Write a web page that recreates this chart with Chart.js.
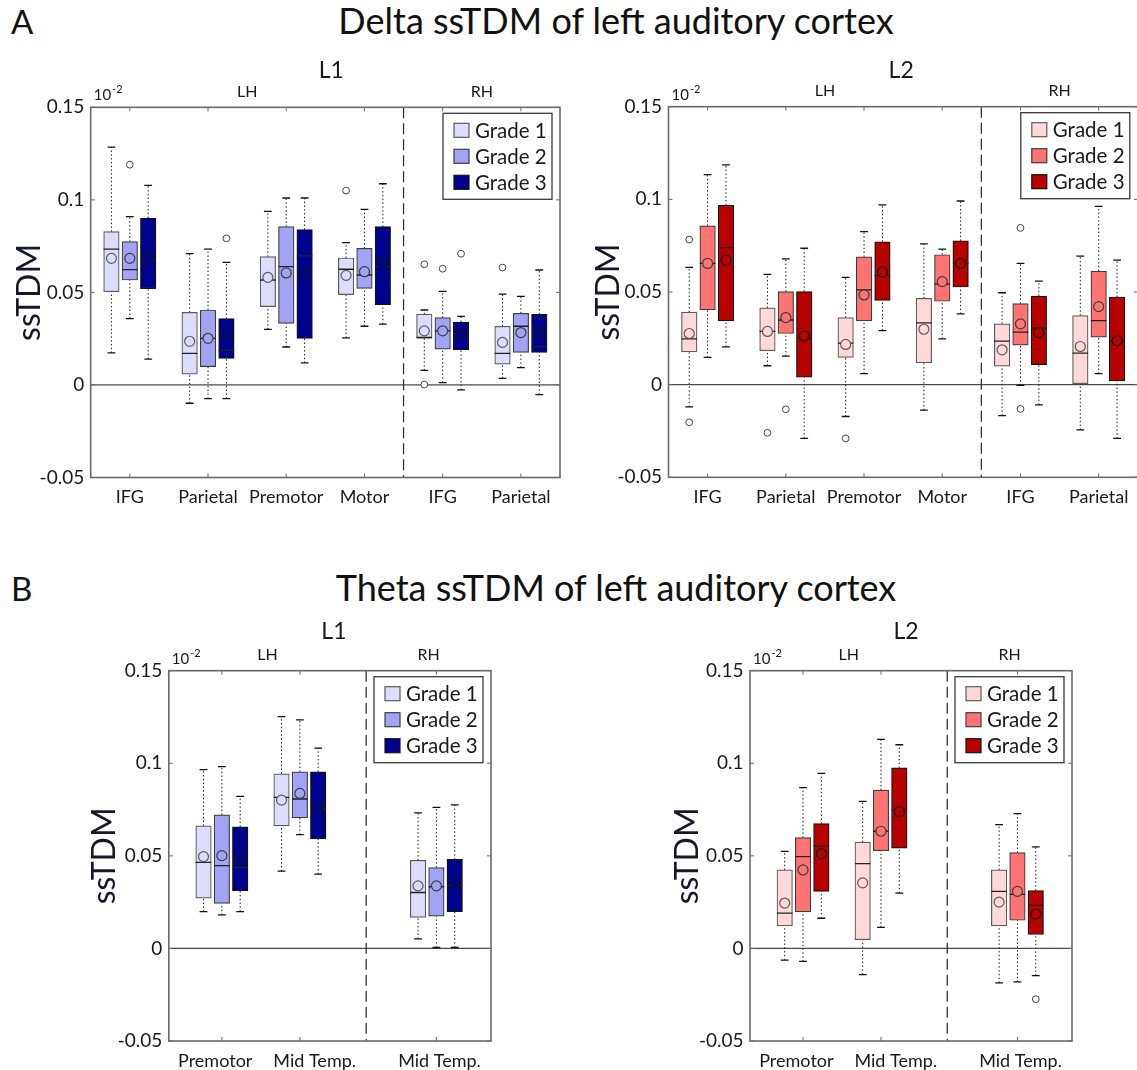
<!DOCTYPE html>
<html>
<head>
<meta charset="utf-8">
<script src="https://cdn.jsdelivr.net/npm/chart.js@4.4.0/dist/chart.umd.min.js"></script>
<style>
  html, body { margin: 0; padding: 0; background: #fff; }
  body { position: relative; width: 1137px; height: 1070px; overflow: hidden; font-family: Lato, sans-serif; color: #111; }
  .letter { position: absolute; font-size: 33px; line-height: 1; }
  .head { position: absolute; font-size: 36px; line-height: 1; white-space: nowrap; transform: translateX(-50%); }
  .panel { position: absolute; }
</style>
</head>
<body>
<div class="letter" style="left:11px;top:5px">A</div>
<div class="head" style="left:616px;top:2px">Delta ssTDM of left auditory cortex</div>
<div class="letter" style="left:11px;top:572px">B</div>
<div class="head" style="left:616px;top:569px">Theta ssTDM of left auditory cortex</div>

<div class="panel" style="left:0px;top:50px"><canvas id="aL1" width="575" height="480"></canvas></div>
<div class="panel" style="left:585px;top:50px"><canvas id="aL2" width="560" height="480"></canvas></div>
<div class="panel" style="left:60px;top:615px"><canvas id="bL1" width="450" height="470"></canvas></div>
<div class="panel" style="left:640px;top:615px"><canvas id="bL2" width="450" height="470"></canvas></div>

<script>
// ---- data ----
const gradeLabels = ['Grade 1', 'Grade 2', 'Grade 3'];
const hemiLabels = ['LH', 'RH'];
const yTicks = [-0.05, 0, 0.05, 0.1, 0.15];
const yTickLabels = ['-0.05', '0', '0.05', '0.1', '0.15'];

const deltaCats = ['IFG', 'Parietal', 'Premotor', 'Motor', 'IFG', 'Parietal'];
const deltaPos = [1, 2, 3, 4, 5, 6];
const deltaLabelPos = [1, 2, 3, 4, 5, 6];
const deltaSplit = 4.5;
const thetaCats = ['Premotor', 'Mid Temp.', 'Mid Temp.'];
const thetaPos = [1, 2, 3.75];
const thetaLabelPos = [0.915, 2.19, 3.79];
const thetaSplit = 2.85;

// each row: [lower whisker, q1, median, q3, upper whisker, mean]
const deltaL1G1 = [
  [0.0173, 0.0504, 0.0734, 0.0828, 0.1285, 0.0684],
  [-0.0099, 0.0058, 0.0171, 0.0392, 0.0709, 0.0236],
  [0.0300, 0.0423, 0.0567, 0.0693, 0.0938, 0.0581],
  [0.0254, 0.0488, 0.0625, 0.0686, 0.0769, 0.0592],
  [0.0079, 0.0252, 0.0257, 0.0382, 0.0405, 0.0292],
  [0.0036, 0.0112, 0.0171, 0.0317, 0.0491, 0.0230]
];
const deltaL1G2 = [
  [0.0358, 0.0567, 0.0623, 0.0774, 0.0909, 0.0684],
  [-0.0074, 0.0099, 0.0252, 0.0405, 0.0734, 0.0252],
  [0.0205, 0.0333, 0.0639, 0.0855, 0.1010, 0.0605],
  [0.0317, 0.0522, 0.0594, 0.0738, 0.0949, 0.0612],
  [0.0013, 0.0193, 0.0292, 0.0364, 0.0506, 0.0292],
  [0.0094, 0.0176, 0.0317, 0.0387, 0.0479, 0.0283]
];
const deltaL1G3 = [
  [0.0140, 0.0520, 0.0680, 0.0902, 0.1078, 0.0684],
  [-0.0074, 0.0144, 0.0187, 0.0358, 0.0662, 0.0277],
  [0.0119, 0.0252, 0.0697, 0.0839, 0.1010, 0.0605],
  [0.0329, 0.0434, 0.0639, 0.0855, 0.1087, 0.0657],
  [-0.0027, 0.0189, 0.0277, 0.0340, 0.0371, 0.0277],
  [-0.0052, 0.0176, 0.0207, 0.0382, 0.0621, 0.0283]
];
// [category index, grade, value]
const deltaL1Out = [[0, 1, 0.119], [1, 2, 0.0792], [3, 0, 0.105], [4, 0, 0.0652], [4, 0, 0.0002], [4, 1, 0.0628], [4, 2, 0.0709], [5, 0, 0.0634]];

const deltaL2G1 = [
  [-0.0120, 0.0177, 0.0247, 0.0391, 0.0633, 0.0276],
  [0.0102, 0.0183, 0.0287, 0.0414, 0.0595, 0.0287],
  [-0.0172, 0.0147, 0.0224, 0.0362, 0.0579, 0.0217],
  [-0.0138, 0.0118, 0.0333, 0.0466, 0.0760, 0.0299],
  [-0.0167, 0.0100, 0.0235, 0.0328, 0.0496, 0.0188],
  [-0.0244, 0.0005, 0.0170, 0.0373, 0.0694, 0.0206]
];
const deltaL2G2 = [
  [0.0147, 0.0403, 0.0654, 0.0857, 0.1133, 0.0654],
  [0.0154, 0.0276, 0.0349, 0.0502, 0.0679, 0.0362],
  [0.0059, 0.0344, 0.0511, 0.0690, 0.0826, 0.0484],
  [0.0247, 0.0450, 0.0543, 0.0701, 0.0731, 0.0556],
  [-0.0004, 0.0213, 0.0283, 0.0437, 0.0654, 0.0328],
  [0.0059, 0.0256, 0.0346, 0.0613, 0.0962, 0.0421]
];
const deltaL2G3 = [
  [0.0204, 0.0344, 0.0740, 0.0968, 0.1186, 0.0672],
  [-0.0290, 0.0041, 0.0251, 0.0502, 0.0736, 0.0263],
  [0.0292, 0.0455, 0.0590, 0.0771, 0.0970, 0.0607],
  [0.0382, 0.0527, 0.0654, 0.0776, 0.0991, 0.0654],
  [-0.0109, 0.0108, 0.0305, 0.0478, 0.0559, 0.0281],
  [-0.0290, 0.0020, 0.0237, 0.0473, 0.0672, 0.0237]
];
const deltaL2Out = [[0, 0, 0.0783], [0, 0, -0.0203], [1, 0, -0.0260], [1, 1, -0.0133], [2, 0, -0.0290], [4, 1, 0.0846], [4, 1, -0.0131]];

const thetaL1G1 = [
  [0.0199, 0.0272, 0.0465, 0.0662, 0.0966, 0.0496],
  [0.0417, 0.0662, 0.0816, 0.0943, 0.1252, 0.0801],
  [0.0052, 0.0168, 0.0302, 0.0476, 0.0732, 0.0338]
];
const thetaL1G2 = [
  [0.0181, 0.0243, 0.0447, 0.0721, 0.0982, 0.0501],
  [0.0615, 0.0705, 0.0807, 0.0954, 0.1234, 0.0837],
  [0.0005, 0.0174, 0.0333, 0.0437, 0.0762, 0.0338]
];
const thetaL1G3 = [
  [0.0199, 0.0311, 0.0437, 0.0657, 0.0821, 0.0483],
  [0.0401, 0.0592, 0.0757, 0.0954, 0.1082, 0.0757],
  [0.0005, 0.0199, 0.0340, 0.0481, 0.0775, 0.0356]
];
const thetaL1Out = [];

const thetaL2G1 = [
  [-0.0063, 0.0122, 0.0191, 0.0424, 0.0524, 0.0245],
  [-0.0141, 0.0047, 0.0458, 0.0574, 0.0794, 0.0354],
  [-0.0186, 0.0122, 0.0308, 0.0424, 0.0669, 0.0250]
];
const thetaL2G2 = [
  [-0.0070, 0.0197, 0.0496, 0.0599, 0.0868, 0.0424],
  [0.0114, 0.0528, 0.0633, 0.0855, 0.1129, 0.0633],
  [-0.0181, 0.0152, 0.0292, 0.0517, 0.0728, 0.0308]
];
const thetaL2G3 = [
  [0.0163, 0.0308, 0.0553, 0.0674, 0.0945, 0.0512],
  [0.0299, 0.0542, 0.0750, 0.0975, 0.1100, 0.0739],
  [-0.0147, 0.0075, 0.0233, 0.0313, 0.0549, 0.0186]
];
const thetaL2Out = [[2, 2, -0.0274]];

// ---- styling ----
const blues = { fill: ['#dcdcfb', '#a3a3f5', '#00008e'], edge: ['#5c5c5c', '#3e3e3e', '#141414'] };
const reds = { fill: ['#ffd9d9', '#ff7373', '#b80000'], edge: ['#5c5c5c', '#3e3e3e', '#141414'] };
const GROUP_OFFSET = 0.235;

Chart.defaults.font.family = 'Lato, sans-serif';
Chart.defaults.color = '#1a1a1a';

function strokeLine(ctx, x1, y1, x2, y2) {
  ctx.beginPath();
  ctx.moveTo(x1, y1);
  ctx.lineTo(x2, y2);
  ctx.stroke();
}

const framePlugin = {
  id: 'frame',
  beforeDatasetsDraw(chart, args, o) {
    const { ctx, chartArea: a, scales: { x, y } } = chart;
    ctx.save();
    ctx.strokeStyle = '#4a4a4a';
    ctx.lineWidth = 1.3;
    const y0 = y.getPixelForValue(0);
    strokeLine(ctx, a.left, y0, a.right, y0);
    ctx.strokeStyle = '#333';
    ctx.setLineDash([11, 5]);
    const xs = x.getPixelForValue(o.split);
    strokeLine(ctx, xs, a.top, xs, a.bottom);
    ctx.restore();
  },
  afterDatasetsDraw(chart, args, o) {
    const { ctx, chartArea: a, scales: { x, y } } = chart;
    ctx.save();
    // box round the axes, with inward ticks
    ctx.strokeStyle = '#6a6a6a';
    ctx.lineWidth = 1.6;
    ctx.strokeRect(a.left, a.top, a.right - a.left, a.bottom - a.top);
    ctx.lineWidth = 1;
    y.ticks.forEach(t => {
      const py = y.getPixelForValue(t.value);
      strokeLine(ctx, a.left, py, a.left + 4, py);
      strokeLine(ctx, a.right - 4, py, a.right, py);
    });
    o.marks.forEach(v => {
      const px = x.getPixelForValue(v);
      strokeLine(ctx, px, a.top, px, a.top + 4);
      strokeLine(ctx, px, a.bottom - 4, px, a.bottom);
    });

    // hemisphere labels, exponent, panel title
    const xs = x.getPixelForValue(o.split);
    ctx.fillStyle = '#1a1a1a';
    ctx.textBaseline = 'alphabetic';
    ctx.textAlign = 'center';
    ctx.font = '16px Lato';
    ctx.fillText(hemiLabels[0], (a.left + xs) / 2, a.top - 10.5);
    ctx.fillText(hemiLabels[1], (xs + a.right) / 2, a.top - 10.5);
    ctx.font = '23px Lato';
    ctx.fillText(o.title, (a.left + a.right) / 2 + o.titleDx, a.top - o.titleGap);
    ctx.textAlign = 'left';
    ctx.font = '15px Lato';
    ctx.fillText('10', a.left + 3, a.top - 7);
    const w10 = ctx.measureText('10').width;
    ctx.font = '11px Lato';
    ctx.fillText('-2', a.left + 3 + w10 + 1, a.top - 14);

    // legend
    const boxes = chart.data.datasets.filter(d => d.type === 'bar');
    const lw = 109, lh = 86;
    const lx = a.right - 8 - lw, ly = a.top + 6;
    ctx.fillStyle = '#fff';
    ctx.fillRect(lx, ly, lw, lh);
    ctx.strokeStyle = '#3a3a3a';
    ctx.lineWidth = 1.3;
    ctx.strokeRect(lx, ly, lw, lh);
    ctx.font = '20.5px Lato';
    ctx.textBaseline = 'middle';
    boxes.forEach((d, i) => {
      const cy = ly + 17 + i * 26;
      ctx.fillStyle = d.backgroundColor;
      ctx.fillRect(lx + 11, cy - 7, 15, 14);
      ctx.strokeStyle = d.borderColor;
      ctx.lineWidth = 1.2;
      ctx.strokeRect(lx + 11, cy - 7, 15, 14);
      ctx.fillStyle = '#1a1a1a';
      ctx.fillText(d.label, lx + 32, cy + 1);
    });
    ctx.restore();
  }
};

function buildDatasets(pos, grades, outliers, colors) {
  const datasets = [];
  grades.forEach((rows, g) => {
    const off = (g - 1) * GROUP_OFFSET;
    const whisk = [], caps = [], meds = [], boxes = [], means = [];
    rows.forEach((r, i) => {
      const px = pos[i] + off;
      const [lo, q1, md, q3, hi, mn] = r;
      whisk.push({ x: px, y: lo }, { x: px, y: q1 }, { x: px, y: null },
                 { x: px, y: q3 }, { x: px, y: hi }, { x: px, y: null });
      caps.push({ x: px - 0.05, y: lo }, { x: px + 0.05, y: lo }, { x: px, y: null },
                { x: px - 0.05, y: hi }, { x: px + 0.05, y: hi }, { x: px, y: null });
      meds.push({ x: px - 0.1, y: md }, { x: px + 0.1, y: md }, { x: px, y: null });
      boxes.push({ x: px, y: [q1, q3] });
      means.push({ x: px, y: mn });
    });
    datasets.push(
      { type: 'line', data: whisk, borderColor: '#111', borderWidth: 1, borderDash: [1.4, 2.4],
        pointRadius: 0, spanGaps: false, order: 9 },
      { type: 'line', data: caps, borderColor: '#111', borderWidth: 1.3, pointRadius: 0, spanGaps: false, order: 9 },
      { type: 'bar', label: gradeLabels[g], data: boxes, backgroundColor: colors.fill[g], borderColor: colors.edge[g],
        borderWidth: 1.2, borderSkipped: false, barThickness: 15.5, grouped: false, order: 5 },
      { type: 'line', data: meds, borderColor: '#222', borderWidth: 1.3, pointRadius: 0, spanGaps: false, order: 3 },
      { type: 'scatter', data: means, pointRadius: 5, pointBackgroundColor: colors.fill[g],
        pointBorderColor: colors.edge[g], pointBorderWidth: 1.2, order: 2 }
    );
  });
  datasets.push({
    type: 'scatter',
    data: outliers.map(([c, g, v]) => ({ x: pos[c] + (g - 1) * GROUP_OFFSET, y: v })),
    pointRadius: 3.4, pointBackgroundColor: '#fff', pointBorderColor: '#444', pointBorderWidth: 1, order: 1
  });
  return datasets;
}

function makeChart(id, p) {
  return new Chart(document.getElementById(id), {
    type: 'scatter',
    data: { datasets: buildDatasets(p.pos, p.grades, p.outliers, p.colors) },
    options: {
      responsive: false,
      animation: false,
      events: [],
      devicePixelRatio: 1,
      layout: { padding: p.pad },
      plugins: {
        legend: { display: false },
        tooltip: { enabled: false },
        frame: { split: p.split, marks: p.pos, title: p.title, titleGap: p.titleGap, titleDx: p.titleDx }
      },
      scales: {
        x: {
          type: 'linear',
          min: p.xMin,
          max: p.xMax,
          offset: false,
          afterBuildTicks: s => { s.ticks = p.labelPos.map(v => ({ value: v })); },
          afterFit: s => { s.height = 40; },
          grid: { display: false, drawTicks: false },
          border: { display: false },
          ticks: { autoSkip: false, maxRotation: 0, padding: 9, font: { size: 18 }, color: '#1a1a1a',
                   callback: (v, i) => p.cats[i] }
        },
        y: {
          min: -0.05,
          max: 0.15,
          afterBuildTicks: s => { s.ticks = yTicks.map(v => ({ value: v })); },
          afterFit: s => { s.width = p.yWidth; },
          grid: { display: false, drawTicks: false },
          border: { display: false },
          ticks: { padding: 6.5, font: { size: 19 }, color: '#1a1a1a', callback: (v, i) => yTickLabels[i] },
          title: { display: true, text: 'ssTDM', color: '#15182a', font: { size: 32 },
                   padding: { top: p.titleTop, bottom: 0 } }
        }
      }
    },
    plugins: [framePlugin]
  });
}

makeChart('aL1', {
  cats: deltaCats, pos: deltaPos, labelPos: deltaLabelPos, split: deltaSplit, xMin: 0.5, xMax: 6.5,
  grades: [deltaL1G1, deltaL1G2, deltaL1G3], outliers: deltaL1Out, colors: blues,
  title: 'L1', titleGap: 29, titleDx: 6,
  pad: { top: 57.3, left: 0, right: 15, bottom: 12.5 }, yWidth: 90.7, titleTop: 10.3
});
makeChart('aL2', {
  cats: deltaCats, pos: deltaPos, labelPos: deltaLabelPos, split: deltaSplit, xMin: 0.5, xMax: 6.5,
  grades: [deltaL2G1, deltaL2G2, deltaL2G3], outliers: deltaL2Out, colors: reds,
  title: 'L2', titleGap: 28.5, titleDx: -2,
  pad: { top: 56.7, left: 0, right: 7.2, bottom: 12.7 }, yWidth: 83.5, titleTop: 4.8
});
makeChart('bL1', {
  cats: thetaCats, pos: thetaPos, labelPos: thetaLabelPos, split: thetaSplit, xMin: 0.32, xMax: 4.45,
  grades: [thetaL1G1, thetaL1G2, thetaL1G3], outliers: thetaL1Out, colors: blues,
  title: 'L1', titleGap: 32, titleDx: 4,
  pad: { top: 55.7, left: 0, right: 19, bottom: 4 }, yWidth: 108.8, titleTop: 25.8
});
makeChart('bL2', {
  cats: thetaCats, pos: thetaPos, labelPos: thetaLabelPos, split: thetaSplit, xMin: 0.32, xMax: 4.45,
  grades: [thetaL2G1, thetaL2G2, thetaL2G3], outliers: thetaL2Out, colors: reds,
  title: 'L2', titleGap: 32, titleDx: -5,
  pad: { top: 55.7, left: 0, right: 18, bottom: 4 }, yWidth: 110, titleTop: 28.8
});
</script>
</body>
</html>
